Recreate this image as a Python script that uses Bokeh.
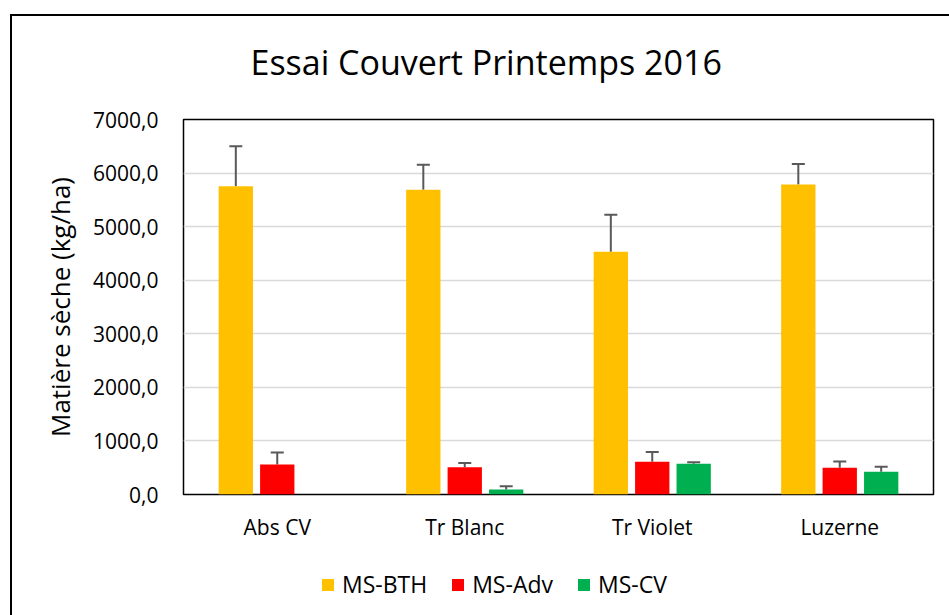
from bokeh.plotting import figure
from bokeh.layouts import column
from bokeh.models import (ColumnDataSource, FactorRange, Range1d, Whisker, TeeHead,
                          Legend, LegendItem, CustomJSTickFormatter, FixedTicker,
                          InlineStyleSheet)
from bokeh.transform import dodge
from bokeh.embed import file_html
from bokeh.resources import INLINE

# ---- data ----
categories = ["Abs CV", "Tr Blanc", "Tr Violet", "Luzerne"]
series = ["MS-BTH", "MS-Adv", "MS-CV"]
ms_bth = [5755, 5690, 4530, 5785]
ms_bth_err = [745, 465, 690, 385]
ms_adv = [560, 510, 610, 500]
ms_adv_err = [225, 80, 185, 115]
ms_cv = [0, 95, 575, 425]
ms_cv_err = [0, 60, 25, 95]
y_ticks = [0, 1000, 2000, 3000, 4000, 5000, 6000, 7000]
colors = ["#FFC000", "#FF0000", "#00B050"]

FONT = "Open Sans"

p = figure(x_range=FactorRange(*categories), y_range=Range1d(0, 7000),
           width=941, height=545, output_backend="svg", toolbar_location=None,
           min_border_left=183, min_border_right=8, min_border_top=119,
           min_border_bottom=51)
p.background_fill_color = "white"
p.border_fill_color = "white"
p.outline_line_color = "black"
p.outline_line_width = 1.5

values = [ms_bth, ms_adv, ms_cv]
errors = [ms_bth_err, ms_adv_err, ms_cv_err]
offsets = [-0.221, 0.0, 0.221]

for name, vals, errs, col, off in zip(series, values, errors, colors, offsets):
    src = ColumnDataSource(dict(cat=categories, val=vals))
    p.vbar(x=dodge("cat", off, range=p.x_range), top="val", width=0.183,
           source=src, fill_color=col, line_color=None)
    keep = [i for i, v in enumerate(vals) if v > 0]
    wsrc = ColumnDataSource(dict(cat=[categories[i] for i in keep],
                                 val=[vals[i] for i in keep],
                                 up=[vals[i] + errs[i] for i in keep]))
    w = Whisker(base=dodge("cat", off, range=p.x_range), lower="val", upper="up",
                source=wsrc, dimension="height", line_color="#595959", line_width=2,
                upper_head=TeeHead(size=13, line_color="#595959", line_width=2),
                lower_head=None)
    p.add_layout(w)

# title
p.title.text = "Essai Couvert Printemps 2016"
p.title.text_font = FONT
p.title.text_font_size = "34px"
p.title.text_font_style = "normal"
p.title.text_color = "#000000"
p.title.align = "left"
p.title.offset = 67
p.title.standoff = 70

# axes
p.yaxis.ticker = FixedTicker(ticks=y_ticks)
p.yaxis.formatter = CustomJSTickFormatter(code="return tick.toFixed(1).replace('.', ',');")
p.yaxis.axis_line_color = None
p.yaxis.major_tick_line_color = None
p.yaxis.minor_tick_line_color = None
p.yaxis.major_label_standoff = 19
p.yaxis.major_label_text_font = FONT
p.yaxis.major_label_text_font_size = "21px"
p.yaxis.major_label_text_color = "#000000"
p.yaxis.axis_label = "Matière sèche (kg/ha)"
p.yaxis.axis_label_text_font = FONT
p.yaxis.axis_label_text_font_size = "26px"
p.yaxis.axis_label_text_font_style = "normal"
p.yaxis.axis_label_text_color = "#000000"
p.yaxis.axis_label_standoff = 12

p.xaxis.axis_line_color = None
p.xaxis.major_tick_line_color = None
p.xaxis.minor_tick_line_color = None
p.xaxis.major_label_standoff = 12
p.xaxis.major_label_text_font = FONT
p.xaxis.major_label_text_font_size = "21px"
p.xaxis.major_label_text_color = "#000000"

p.xgrid.grid_line_color = None
p.ygrid.grid_line_color = "#D9D9D9"
p.ygrid.grid_line_width = 1.5

# ---- legend strip (separate figure below; its bars have zero width, so only
#      the legend swatches show) ----
p2 = figure(width=941, height=62, output_backend="svg", toolbar_location=None,
            x_range=FactorRange(*categories), y_range=Range1d(-2, -1),
            min_border_left=0, min_border_right=0, min_border_top=0,
            min_border_bottom=0, x_axis_type=None, y_axis_type=None)
p2.outline_line_color = None
p2.grid.visible = False
p2.background_fill_color = "white"
p2.border_fill_color = "white"

items = []
for name, vals, col, off in zip(series, values, colors, offsets):
    src2 = ColumnDataSource(dict(cat=categories, val=vals))
    r = p2.vbar(x=dodge("cat", off, range=p2.x_range), top="val", width=0,
                source=src2, fill_color=col, line_color=None)
    items.append(LegendItem(label=name, renderers=[r]))

legend = Legend(items=items, orientation="horizontal", location=(137, 7),
                padding=0, margin=0, spacing=23, label_standoff=7,
                glyph_width=15, glyph_height=15,
                label_text_font=FONT, label_text_font_size="23px",
                label_text_color="#000000",
                border_line_color=None, background_fill_color=None)
p2.add_layout(legend, "center")

# outer chart border (decoration only)
p.stylesheets = [InlineStyleSheet(css="""
:host::after {
  content: "";
  position: absolute;
  left: 10px; top: 14px; right: -20px; bottom: 0px;
  border-top: 2px solid black;
  border-left: 2px solid black;
  pointer-events: none;
  z-index: 100;
}
""")]
p2.stylesheets = [InlineStyleSheet(css="""
:host::after {
  content: "";
  position: absolute;
  left: 10px; top: 0px; bottom: -20px; width: 0px;
  border-left: 2px solid black;
  pointer-events: none;
  z-index: 100;
}
""")]

layout = column(p, p2, spacing=0)

open("out.html", "w").write(file_html(layout, INLINE))
